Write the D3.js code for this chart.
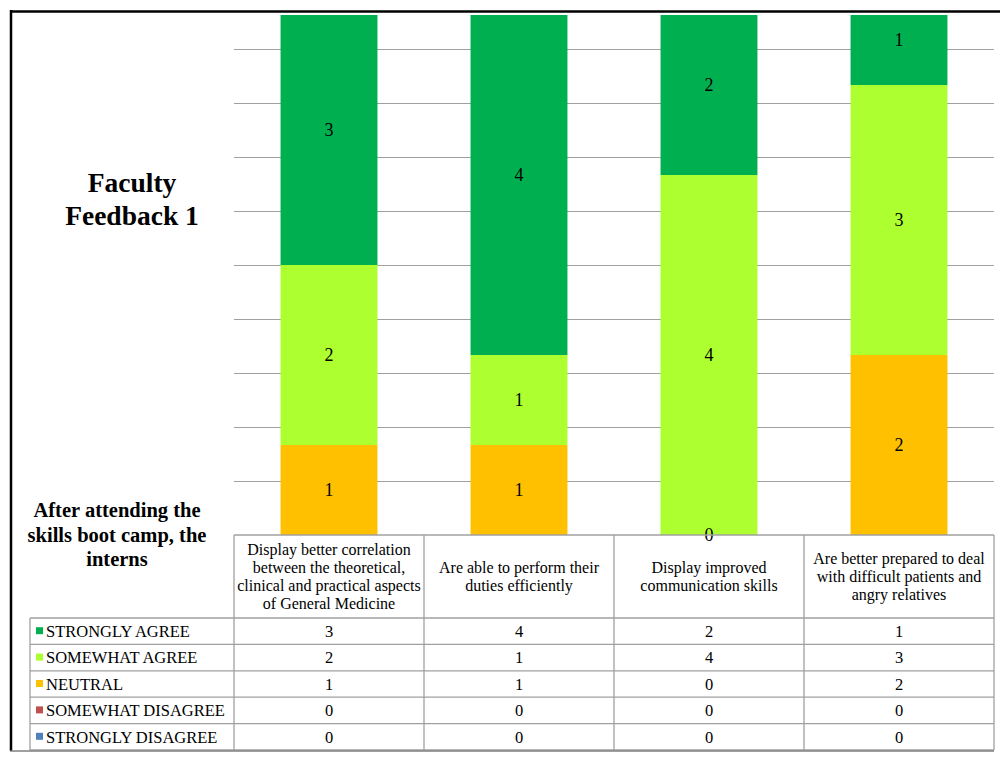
<!DOCTYPE html>
<html>
<head>
<meta charset="utf-8">
<script src="https://cdn.jsdelivr.net/npm/d3@7"></script>
<style>
  body { margin: 0; background: #fff; }
  text { font-family: "Liberation Serif", "Times New Roman", serif; fill: #000; }
</style>
</head>
<body>
<div id="chart"></div>
<script>
// categories (one array of lines per column header)
var categories = [
  ["Display better correlation", "between the theoretical,", "clinical and practical aspects", "of General Medicine"],
  ["Are able to perform their", "duties efficiently"],
  ["Display improved", "communication skills"],
  ["Are better prepared to deal", "with difficult patients and", "angry relatives"]
];
// series, top row first (table order)
var seriesNames = ["STRONGLY AGREE", "SOMEWHAT AGREE", "NEUTRAL", "SOMEWHAT DISAGREE", "STRONGLY DISAGREE"];
var seriesColors = ["#00b050", "#adff2f", "#ffc000", "#c0504d", "#4f81bd"];
var stronglyAgree = [3, 4, 2, 1];
var somewhatAgree = [2, 1, 4, 3];
var neutral = [1, 1, 0, 2];
var somewhatDisagree = [0, 0, 0, 0];
var stronglyDisagree = [0, 0, 0, 0];
var seriesValues = [stronglyAgree, somewhatAgree, neutral, somewhatDisagree, stronglyDisagree];
// series whose values are written inside the bars
var labelled = ["STRONGLY AGREE", "SOMEWHAT AGREE", "NEUTRAL"];
var gridStep = 0.6;

var W = 1000, H = 767;
var plot = {left: 234, right: 994, top: 15, base: 535};
var rowH = 26.4, headH = 83, legendLeft = 30;

var svg = d3.select("#chart").append("svg")
    .attr("width", W).attr("height", H);

// scales
var x = d3.scaleBand()
    .domain(d3.range(categories.length))
    .range([plot.left, plot.right])
    .paddingInner(0.49).paddingOuter(0.245);
var xCol = d3.scaleBand()
    .domain(d3.range(categories.length))
    .range([plot.left, plot.right]);
var y = d3.scaleLinear().domain([0, 6]).range([plot.base, plot.base - 540]);

// stack data: bottom = strongly disagree, top = strongly agree
var rows = categories.map(function(c, i) {
  var r = {idx: i};
  seriesNames.forEach(function(s, j) { r[s] = seriesValues[j][i]; });
  return r;
});
var stackKeys = seriesNames.slice().reverse();
var stacked = d3.stack().keys(stackKeys)(rows);

svg.append("defs").append("clipPath").attr("id", "plotclip")
  .append("rect")
    .attr("x", 0).attr("y", plot.top)
    .attr("width", W).attr("height", plot.base - plot.top);

var g = svg.append("g").attr("clip-path", "url(#plotclip)");

// gridlines
var gridVals = d3.range(1, 10).map(function(k) { return k * gridStep; });
g.selectAll(".grid")
  .data(gridVals)
  .enter().append("line")
    .attr("x1", plot.left).attr("x2", plot.right)
    .attr("y1", function(d) { return Math.round(y(d)) + 0.5; })
    .attr("y2", function(d) { return Math.round(y(d)) + 0.5; })
    .attr("stroke", "#a0a0a0").attr("stroke-width", 1);

// bars
var layer = g.selectAll(".layer")
  .data(stacked)
  .enter().append("g")
    .attr("fill", function(d) { return seriesColors[seriesNames.indexOf(d.key)]; });

layer.selectAll("rect")
  .data(function(d) { return d; })
  .enter().append("rect")
    .attr("x", function(d) { return x(d.data.idx); })
    .attr("width", x.bandwidth())
    .attr("y", function(d) { return y(d[1]); })
    .attr("height", function(d) { return y(d[0]) - y(d[1]); });

// value labels
var labelLayer = svg.append("g");
stacked.forEach(function(s) {
  if (labelled.indexOf(s.key) < 0) return;
  s.forEach(function(d) {
    labelLayer.append("text")
      .attr("x", x(d.data.idx) + x.bandwidth() / 2)
      .attr("y", (y(d[0]) + y(d[1])) / 2)
      .attr("dy", "0.35em")
      .attr("text-anchor", "middle")
      .style("font-size", "18px")
      .text(d[1] - d[0]);
  });
});

// titles
var title = svg.append("text")
    .attr("text-anchor", "middle")
    .style("font-size", "27.5px").style("font-weight", "bold");
["Faculty", "Feedback 1"].forEach(function(t, i) {
  title.append("tspan").attr("x", 132).attr("y", 192 + i * 33).text(t);
});
var sub = svg.append("text")
    .attr("text-anchor", "middle")
    .style("font-size", "20.5px").style("font-weight", "bold");
["After attending the", "skills boot camp, the", "interns"].forEach(function(t, i) {
  sub.append("tspan").attr("x", 117).attr("y", 517 + i * 24.5).text(t);
});

// data table
var tbl = svg.append("g");
var border = "#a0a0a0";
var tableBottom = plot.base + headH + rowH * seriesNames.length;

// header cells
categories.forEach(function(lines, i) {
  var cx = xCol(i) + xCol.bandwidth() / 2;
  var cy = plot.base + headH / 2 - (lines.length - 1) * 18 / 2;
  var t = tbl.append("text")
      .attr("text-anchor", "middle")
      .style("font-size", "16px");
  lines.forEach(function(l, k) {
    t.append("tspan").attr("x", cx).attr("y", cy + k * 18).attr("dy", "0.35em").text(l);
  });
});

// rows
seriesNames.forEach(function(s, j) {
  var ry = plot.base + headH + j * rowH;
  tbl.append("rect")
    .attr("x", legendLeft + 6).attr("y", ry + rowH / 2 - 4)
    .attr("width", 7).attr("height", 7)
    .attr("fill", seriesColors[j]);
  tbl.append("text")
    .attr("x", legendLeft + 16).attr("y", ry + rowH / 2)
    .attr("dy", "0.35em")
    .style("font-size", "16.5px")
    .text(s);
  seriesValues[j].forEach(function(v, i) {
    tbl.append("text")
      .attr("x", xCol(i) + xCol.bandwidth() / 2).attr("y", ry + rowH / 2)
      .attr("dy", "0.35em")
      .attr("text-anchor", "middle")
      .style("font-size", "16.5px")
      .text(v);
  });
});

// table grid lines
var hl = [plot.base].concat(d3.range(seriesNames.length + 1).map(function(j) {
  return plot.base + headH + j * rowH;
}));
hl.forEach(function(yy, k) {
  tbl.append("line")
    .attr("x1", k === 0 ? plot.left : legendLeft)
    .attr("x2", plot.right)
    .attr("y1", yy).attr("y2", yy)
    .attr("stroke", border).attr("stroke-width", 1.3);
});
d3.range(categories.length + 1).forEach(function(i) {
  var xx = i < categories.length ? xCol(i) : plot.right;
  tbl.append("line")
    .attr("x1", xx).attr("x2", xx)
    .attr("y1", plot.base).attr("y2", tableBottom)
    .attr("stroke", border).attr("stroke-width", 1.3);
});
tbl.append("line")
  .attr("x1", legendLeft).attr("x2", legendLeft)
  .attr("y1", plot.base + headH).attr("y2", tableBottom)
  .attr("stroke", border).attr("stroke-width", 1.3);

// outer frame
svg.append("line").attr("x1", 10).attr("x2", W).attr("y1", 11.5).attr("y2", 11.5)
  .attr("stroke", "#000").attr("stroke-width", 2.5);
svg.append("line").attr("x1", 11).attr("x2", 11).attr("y1", 10).attr("y2", tableBottom + 1)
  .attr("stroke", "#000").attr("stroke-width", 2.5);
svg.append("line").attr("x1", 10).attr("x2", plot.right).attr("y1", tableBottom + 1).attr("y2", tableBottom + 1)
  .attr("stroke", "#808080").attr("stroke-width", 1.3);
</script>
</body>
</html>
